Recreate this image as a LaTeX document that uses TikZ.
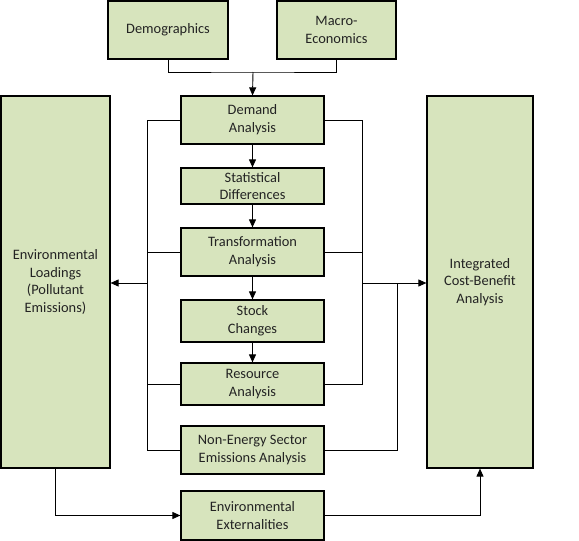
\documentclass[tikz,border=0pt]{standalone}
\usepackage{fontspec}
\setmainfont{Carlito}
\usetikzlibrary{arrows.meta}
\definecolor{boxfill}{RGB}{215,228,189}
\definecolor{txt}{RGB}{35,35,35}
\begin{document}
\begin{tikzpicture}[x=1pt,y=-1pt,
  box/.style={draw=black,line width=1.2pt,fill=boxfill,inner sep=0pt,
    align=center,text=txt,font=\fontsize{14.4}{17.8}\selectfont},
  conn/.style={draw=black,line width=0.9pt},
  arr/.style={conn,-{Triangle[length=8pt,width=7pt]}}]
\useasboundingbox (0,0) rectangle (579,541);
% helper: box by corners
\newcommand{\pbox}[6]{\node[box,minimum width={#3-#1},minimum height={#4-#2}] (#5) at ({(#1+#3)/2},{(#2+#4)/2}) {#6};}
\pbox{108}{1}{228}{59}{demo}{Demographics}
\pbox{277}{1}{396}{59}{macro}{Macro-\\Economics}
\pbox{181}{96}{324}{144}{demand}{Demand\\Analysis}
\pbox{181}{168}{324}{204}{stat}{Statistical\\Differences}
\pbox{181}{228}{324}{276}{trans}{Transformation\\Analysis}
\pbox{181}{300}{324}{342}{stock}{Stock\\Changes}
\pbox{181}{363}{324}{405}{res}{Resource\\Analysis}
\pbox{181}{426}{324}{474}{nonen}{Non-Energy Sector\\Emissions Analysis}
\pbox{181}{491}{324}{540}{ext}{Environmental\\Externalities}
\pbox{1}{96}{110}{468}{env}{Environmental\\Loadings\\(Pollutant\\Emissions)}
\pbox{427}{96}{533}{468}{icba}{Integrated\\Cost-Benefit\\Analysis}
% junction coordinates
\coordinate (j1) at (253,72);
\coordinate (lj) at (147,283);
\coordinate (rj) at (362,283);
\coordinate (rj2) at (397,283);
% top merge
\draw[conn] (demo.south) |- (j1) -| (macro.south);
\draw[arr] (j1) -- (demand.north);
% vertical chain
\draw[arr] (demand) -- (stat);
\draw[arr] (stat) -- (trans);
\draw[arr] (trans) -- (stock);
\draw[arr] (stock) -- (res);
% left bracket
\draw[conn] (demand.west) -| (nonen.west -| lj) -- (nonen.west);
\draw[conn] (trans.west) -- (trans.west -| lj);
\draw[conn] (res.west) -- (res.west -| lj);
\draw[arr] (lj) -- (env.east |- lj);
% right bracket
\draw[conn] (demand.east) -| (res.east -| rj) -- (res.east);
\draw[conn] (trans.east) -- (trans.east -| rj);
\draw[arr] (rj) -- (icba.west |- rj);
\draw[conn] (nonen.east) -| (rj2);
% bottom
\draw[arr] (env.south -| 55,0) |- (ext.west);
\draw[arr] (ext.east) -| (icba.south -| 480,0);
\end{tikzpicture}
\end{document}
